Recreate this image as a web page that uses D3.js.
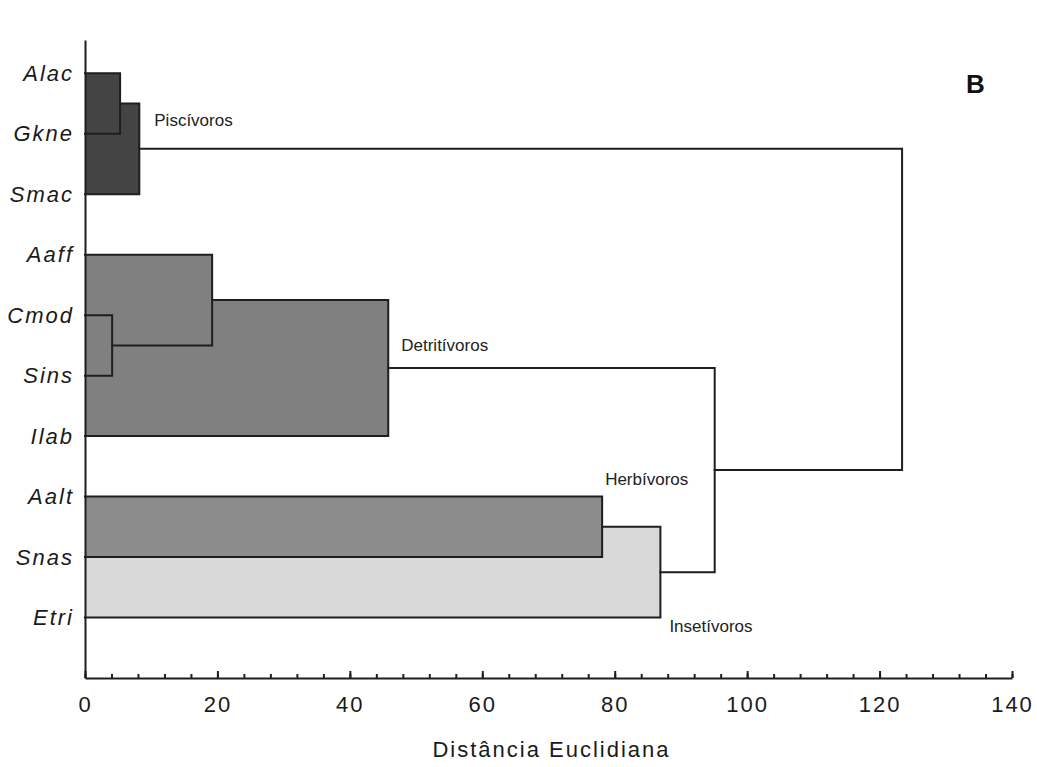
<!DOCTYPE html>
<html>
<head>
<meta charset="utf-8">
<script src="https://cdn.jsdelivr.net/npm/d3@7/dist/d3.min.js"></script>
<style>
  html, body { margin: 0; padding: 0; background: #fff; }
  svg { display: block; }
</style>
</head>
<body>
<svg id="chart" width="1037" height="767"></svg>
<script>
// ---- Data ----
const leaves = ["Alac", "Gkne", "Smac", "Aaff", "Cmod", "Sins", "Ilab", "Aalt", "Snas", "Etri"];
// Linkage: merge k creates cluster id (leaves.length + k)
const mergeLeft   = [0, 10, 4, 3, 13, 7, 15, 14, 11];
const mergeRight  = [1, 2, 5, 12, 6, 8, 9, 16, 17];
const mergeHeight = [5.3, 8.2, 4.1, 19.2, 45.8, 78.1, 86.9, 95.1, 123.4];
// Trophic groups: label, merges (by index) they cover
const groupNames  = ["Piscívoros", "Detritívoros", "Insetívoros", "Herbívoros"];
const groupMerges = [[0, 1], [2, 3, 4], [6], [5]];
const groupFills  = ["#444444", "#808080", "#d9d9d9", "#8c8c8c"];
const xTicksMajor = [0, 20, 40, 60, 80, 100, 120, 140];
const xTicksMinor = d3.range(0, 141, 4);
const xTitle = "Distância Euclidiana";
const panelLabel = "B";

// ---- Layout ----
const svg = d3.select("#chart");
const x = d3.scaleLinear().domain([0, 140]).range([85, 1012]);
const y = d3.scaleLinear().domain([-0.55, 10]).range([40, 678]);
const stroke = "#1e1e1e";

// node positions
const nodes = leaves.map((name, i) => ({ h: 0, pos: i }));
mergeLeft.forEach((l, k) => {
  const r = mergeRight[k];
  nodes.push({ h: mergeHeight[k], pos: (nodes[l].pos + nodes[r].pos) / 2, l, r });
});

// fills: union of rectangles per merge
groupMerges.forEach((ms, g) => {
  svg.append("g").selectAll("rect").data(ms).join("rect")
    .attr("x", x(0))
    .attr("y", k => y(Math.min(nodes[mergeLeft[k]].pos, nodes[mergeRight[k]].pos)))
    .attr("width", k => x(mergeHeight[k]) - x(0))
    .attr("height", k => Math.abs(y(nodes[mergeRight[k]].pos) - y(nodes[mergeLeft[k]].pos)))
    .attr("fill", groupFills[g]);
});

// links
svg.append("g").selectAll("path").data(mergeLeft.map((l, k) => k)).join("path")
  .attr("d", k => {
    const a = nodes[mergeLeft[k]], b = nodes[mergeRight[k]];
    const xm = x(mergeHeight[k]);
    return `M${x(a.h)},${y(a.pos)}H${xm}V${y(b.pos)}H${x(b.h)}`;
  })
  .attr("fill", "none")
  .attr("stroke", stroke)
  .attr("stroke-width", 2)
  .attr("stroke-linejoin", "miter")
  .attr("stroke-linecap", "square");

// group labels
const labelOffsets = [[15, -23], [13, -17], [9, 60], [3, -42]];
groupMerges.forEach((ms, g) => {
  const k = ms[ms.length - 1];
  const n = nodes[leaves.length + k];
  svg.append("text")
    .attr("x", x(n.h) + labelOffsets[g][0])
    .attr("y", y(n.pos) + labelOffsets[g][1])
    .attr("font-family", "Liberation Sans, Arial, sans-serif")
    .attr("font-size", 17)
    .attr("fill", "#222")
    .text(groupNames[g]);
});

// y axis with leaf labels
const yAxis = svg.append("g")
  .attr("transform", `translate(${x(0)},0)`)
  .call(d3.axisLeft(y).tickValues(d3.range(leaves.length)).tickFormat(i => leaves[i])
    .tickSize(0).tickPadding(11));
yAxis.select(".domain").attr("stroke", stroke).attr("stroke-width", 2);
yAxis.selectAll("text")
  .attr("font-family", "Liberation Sans, Arial, sans-serif")
  .attr("font-style", "italic")
  .attr("font-size", 22)
  .attr("letter-spacing", 2)
  .attr("fill", "#1a1a1a");

// x axis: minor ticks
const xMinor = svg.append("g")
  .attr("transform", `translate(0,${y.range()[1]})`)
  .call(d3.axisBottom(x).tickValues(xTicksMinor).tickSize(-4).tickSizeOuter(0).tickFormat(""));
xMinor.select(".domain").remove();
xMinor.selectAll("line").attr("stroke", stroke).attr("stroke-width", 2);

// x axis: major
const xAxis = svg.append("g")
  .attr("transform", `translate(0,${y.range()[1]})`)
  .call(d3.axisBottom(x).tickValues(xTicksMajor).tickSize(-7).tickSizeOuter(0).tickPadding(18));
xAxis.select(".domain").attr("stroke", stroke).attr("stroke-width", 2);
xAxis.selectAll("line").attr("stroke", stroke).attr("stroke-width", 2);
xAxis.selectAll("text")
  .attr("font-family", "Liberation Sans, Arial, sans-serif")
  .attr("font-size", 22)
  .attr("letter-spacing", 2)
  .attr("fill", "#1a1a1a");

// x title
svg.append("text")
  .attr("x", (x(0) + x(140)) / 2 + 3)
  .attr("y", 757)
  .attr("text-anchor", "middle")
  .attr("font-family", "Liberation Sans, Arial, sans-serif")
  .attr("font-size", 22)
  .attr("letter-spacing", 2)
  .attr("fill", "#1a1a1a")
  .text(xTitle);

// panel label
svg.append("text")
  .attr("x", 966)
  .attr("y", 93)
  .attr("font-family", "Liberation Sans, Arial, sans-serif")
  .attr("font-weight", "bold")
  .attr("font-size", 26)
  .attr("fill", "#111")
  .text(panelLabel);
</script>
</body>
</html>
